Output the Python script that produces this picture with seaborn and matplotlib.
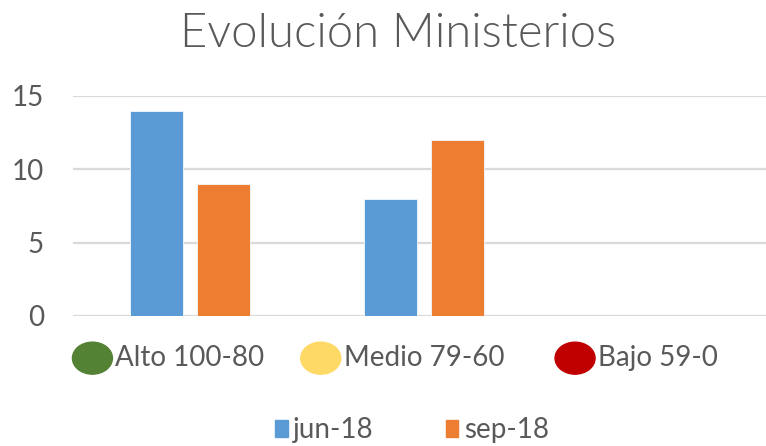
#Import Libraries
import pandas as pd
import matplotlib.pyplot as plt
from matplotlib.patches import Ellipse, Patch
import seaborn as sns

#Chart data
categories = ["Alto 100-80", "Medio 79-60", "Bajo 59-0"]
dot_colors = ["#548235", "#FFD966", "#C00000"]
series = ["jun-18", "sep-18"]
jun_18 = [14, 8, 0]
sep_18 = [9, 12, 0]
y_ticks = [0, 5, 10, 15]

df = pd.DataFrame({
    "categoria": categories * 2,
    "valor": jun_18 + sep_18,
    "serie": [series[0]] * 3 + [series[1]] * 3,
})

#Style
sns.set_theme(style="white")
plt.rcParams["font.family"] = ["Lato", "DejaVu Sans"]
text_color = "#595959"
bar_colors = {"jun-18": "#5B9BD5", "sep-18": "#ED7D31"}

fig = plt.figure(figsize=(7.66, 4.46), dpi=100)
ax = fig.add_axes([73 / 766, 130 / 446, 693 / 766, 220 / 446])

sns.barplot(data=df, x="categoria", y="valor", hue="serie", hue_order=series,
            palette=bar_colors, saturation=1, width=0.573, gap=0.21, legend=False,
            edgecolor="#f4f8fc", linewidth=0.6, ax=ax)

ax.set_xlim(-0.5, -0.5 + 693 / 234)
ax.set_ylim(0, 15)
ax.set_yticks(y_ticks)
ax.set_xlabel("")
ax.set_ylabel("")
ax.grid(axis="y", color="#d9d9d9", linewidth=1.6)
ax.set_axisbelow(True)
for s in ax.spines.values():
    s.set_visible(False)
ax.tick_params(axis="y", length=0, pad=21, labelsize=20, labelcolor=text_color)
ax.tick_params(axis="x", length=0, pad=21, labelsize=20, labelcolor=text_color)

#Title
fig.text(398 / 766, 1 - 47 / 446, "Evolución Ministerios", ha="center",
         va="baseline", fontsize=34, color=text_color, fontweight=300)

#Coloured dots left of the category labels
fig.canvas.draw()
renderer = fig.canvas.get_renderer()
for lbl, col in zip(ax.get_xticklabels(), dot_colors):
    bb = lbl.get_window_extent(renderer)
    cx = (bb.x0 - 23) / 766
    cy = (bb.y0 + bb.y1) / 2 / 446
    fig.add_artist(Ellipse((cx, cy), 40 / 766, 32 / 446, color=col,
                           transform=fig.transFigure))

#Legend
handles = [Patch(color=bar_colors[s], label=s) for s in series]
fig.legend(handles=handles, loc="center", bbox_to_anchor=(412 / 766, 1 - 430 / 446),
           ncol=2, frameon=False, fontsize=20, labelcolor=text_color,
           handlelength=0.45, handleheight=0.55, handletextpad=0.2, columnspacing=2.6)

plt.savefig("out.png", dpi=100)
